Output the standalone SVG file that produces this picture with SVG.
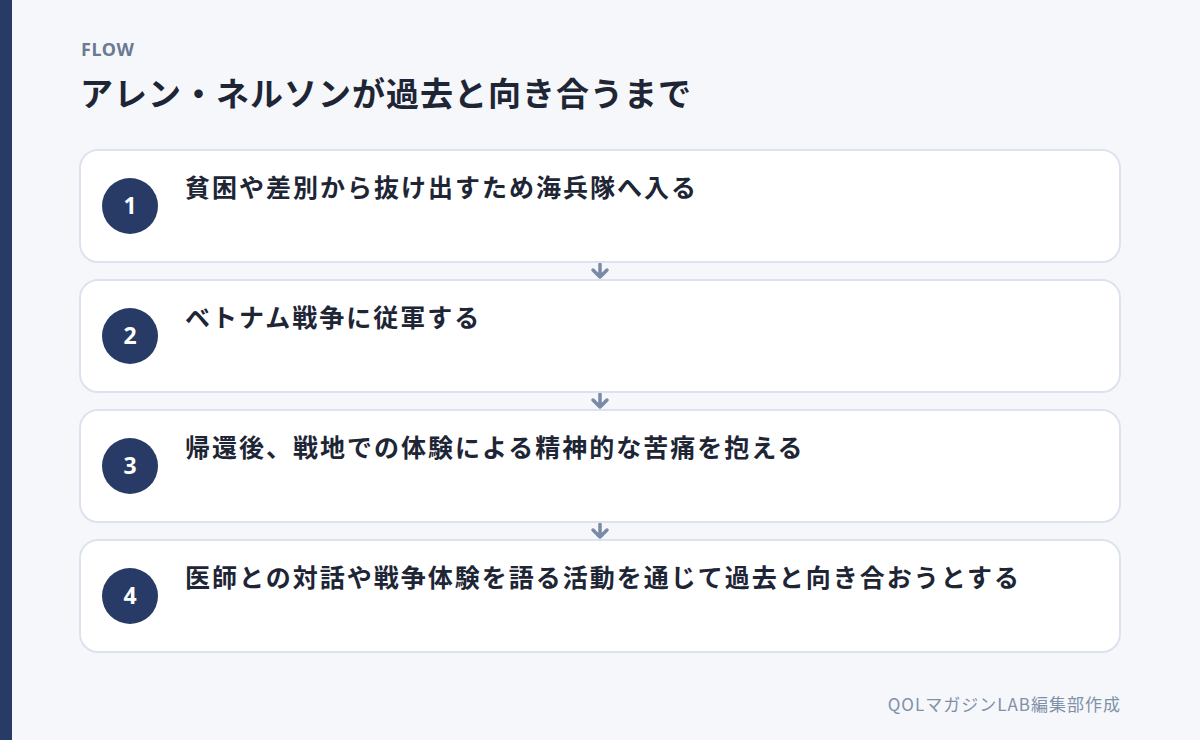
<svg xmlns="http://www.w3.org/2000/svg" width="1200" height="740" viewBox="0 0 1200 740">
<style>
.bg{fill:#f5f7fb}
.card{fill:#ffffff;stroke:#dce3ee;stroke-width:2}
.num{fill:#283a66}
.numt{fill:#ffffff;font-family:"Noto Sans","Noto Sans CJK JP",sans-serif;font-weight:700;font-size:23px;text-anchor:middle}
.lbl{fill:#1e2636;font-family:"Noto Sans CJK JP",sans-serif;font-weight:700;font-size:25px;letter-spacing:2px}
.arr{fill:none;stroke:#7b8aa6;stroke-width:3.5;stroke-linecap:round;stroke-linejoin:round}
</style>
<rect class="bg" x="0" y="0" width="1200" height="740"/>
<rect x="0" y="0" width="12" height="740" fill="#283a66"/>
<text x="81" y="56" font-family="Noto Sans, Noto Sans CJK JP, sans-serif" font-weight="700" font-size="18" letter-spacing="0.6" fill="#6b7a93">FLOW</text>
<text x="80" y="106" font-family="Noto Sans CJK JP, sans-serif" font-weight="700" font-size="33" letter-spacing="1" fill="#1e2636">アレン・ネルソンが過去と向き合うまで</text>
<g id="connectors">
<path class="arr" d="M600 264 V277 M593 270 L600 277 L607 270"/>
<path class="arr" d="M600 394 V407 M593 400 L600 407 L607 400"/>
<path class="arr" d="M600 524 V537 M593 530 L600 537 L607 530"/>
</g>
<g id="step1">
<rect class="card" x="80" y="150" width="1040" height="112" rx="18"/>
<circle class="num" cx="130" cy="206" r="28"/>
<text class="numt" x="130" y="214">1</text>
<text class="lbl" x="185" y="197">貧困や差別から抜け出すため海兵隊へ入る</text>
</g>
<g id="step2">
<rect class="card" x="80" y="280" width="1040" height="112" rx="18"/>
<circle class="num" cx="130" cy="336" r="28"/>
<text class="numt" x="130" y="344">2</text>
<text class="lbl" x="185" y="327">ベトナム戦争に従軍する</text>
</g>
<g id="step3">
<rect class="card" x="80" y="410" width="1040" height="112" rx="18"/>
<circle class="num" cx="130" cy="466" r="28"/>
<text class="numt" x="130" y="474">3</text>
<text class="lbl" x="185" y="457">帰還後、戦地での体験による精神的な苦痛を抱える</text>
</g>
<g id="step4">
<rect class="card" x="80" y="540" width="1040" height="112" rx="18"/>
<circle class="num" cx="130" cy="596" r="28"/>
<text class="numt" x="130" y="604">4</text>
<text class="lbl" x="185" y="587">医師との対話や戦争体験を語る活動を通じて過去と向き合おうとする</text>
</g>
<text x="1121" y="711" text-anchor="end" font-family="Noto Sans CJK JP, sans-serif" font-size="17" letter-spacing="1" fill="#8090a8">QOLマガジンLAB編集部作成</text>
</svg>
